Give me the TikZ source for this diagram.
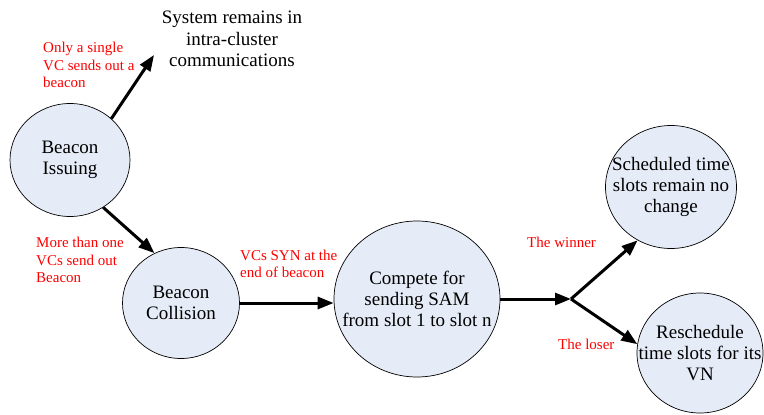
\documentclass[tikz,border=0pt]{standalone}
\usepackage{fontspec}
\setmainfont{Liberation Serif}
\usetikzlibrary{shapes.geometric,arrows.meta}
\definecolor{nodefill}{RGB}{230,236,247}
\begin{document}
\begin{tikzpicture}[x=1pt,y=-1pt,
  state/.style={ellipse,draw=black,line width=0.7pt,fill=nodefill,inner sep=0pt},
  statetext/.style={font=\fontsize{19}{21}\selectfont,align=center,inner sep=0pt},
  note/.style={text=red,font=\fontsize{15}{17.5}\selectfont,align=left,anchor=west,inner sep=0pt},
  flow/.style={line width=3pt,-{Triangle[length=16pt,width=12pt]}}]
\useasboundingbox (0,0) rectangle (764,415);
\node[state,minimum width=120pt,minimum height=113pt,
  label={[statetext]center:Beacon\\Issuing}] (issue) at (70,160) {};
\node[state,minimum width=117pt,minimum height=111pt,
  label={[statetext]center:Beacon\\Collision}] (coll) at (181,303) {};
\node[state,minimum width=166pt,minimum height=156pt,
  label={[statetext]center:Compete for\\sending SAM\\from slot 1 to slot n}] (comp) at (417,299) {};
\node[state,minimum width=131pt,minimum height=123pt,
  label={[statetext]center:Scheduled time\\slots remain no\\change}] (sched) at (671,187) {};
\node[state,minimum width=126pt,minimum height=120pt,
  label={[statetext]center:Reschedule\\time slots for its\\VN}] (resch) at (700,353) {};
\node[align=center,inner sep=0pt,font=\fontsize{19}{21.5}\selectfont] (sys) at (232,39) {System remains in\\intra-cluster\\communications};
\coordinate (sysin) at (154,55);
\coordinate (junc) at (571,299);
\node[note] (n1) at (43,65) {Only a single\\VC sends out a\\beacon};
\node[note] (n2) at (36,260) {More than one\\VCs send out\\Beacon};
\node[note] (n3) at (240,264) {VCs SYN at the\\end of beacon};
\node[note] (n4) at (527,242) {The winner};
\node[note] (n5) at (558,344) {The loser};
\draw[flow] (issue.45) -- (sysin);
\draw[flow] (issue.-55) -- (coll.118);
\draw[flow] (coll.east) -- (coll.east -| comp.west);
\draw[flow] (comp.east) -- (junc);
\draw[flow] (junc) -- (sched.-122);
\draw[flow] (junc) -- (resch.172);
\end{tikzpicture}
\end{document}
